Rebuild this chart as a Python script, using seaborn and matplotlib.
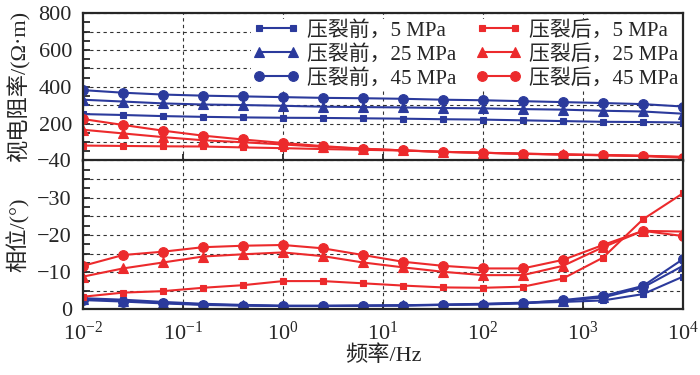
import numpy as np
import pandas as pd
import matplotlib
matplotlib.use("Agg")
import matplotlib.pyplot as plt
from matplotlib.ticker import MultipleLocator, FuncFormatter, LogLocator, NullLocator
import seaborn as sns

# ---------------------- Data ----------------------
freq = [0.01, 0.0251, 0.0631, 0.158, 0.398, 1.0, 2.51, 6.31, 15.8, 39.8,
        100.0, 251.0, 631.0, 1585.0, 3981.0, 10000.0]

rho_before_5 = [252, 247, 241, 237, 234, 232, 231, 229, 227, 224, 222, 218, 214, 210, 209, 206]
rho_before_25 = [330, 320, 310, 304, 301, 297, 292, 290, 288, 285, 283, 279, 276, 270, 266, 254]
rho_before_45 = [382, 368, 358, 352, 348, 344, 340, 338, 335, 330, 327, 322, 317, 312, 306, 293]
rho_after_5 = [81, 79, 77, 76, 71, 67, 62, 58, 54, 47, 42, 37, 33, 30, 26, 20]
rho_after_25 = [167, 147, 127, 110, 99, 87, 74, 64, 55, 47, 42, 37, 33, 29, 25, 18]
rho_after_45 = [225, 193, 162, 135, 114, 95, 78, 64, 55, 47, 42, 36, 32, 28, 24, 15]

phase_before_5 = [-3.0, -2.6, -2.0, -1.5, -1.2, -1.0, -1.0, -1.0, -1.1, -1.2, -1.4, -1.7, -2.0, -2.4, -4.1, -8.8]
phase_before_25 = [-2.8, -2.3, -1.8, -1.3, -1.1, -0.9, -0.9, -1.0, -1.1, -1.3, -1.5, -1.8, -2.3, -3.2, -5.9, -11.7]
phase_before_45 = [-2.5, -2.1, -1.6, -1.2, -1.0, -0.9, -0.9, -1.0, -1.0, -1.2, -1.3, -1.6, -2.5, -3.6, -6.3, -13.5]
phase_after_5 = [-3.4, -4.5, -4.9, -5.8, -6.5, -7.6, -7.6, -7.0, -6.4, -5.9, -5.8, -6.1, -8.3, -13.9, -24.2, -31.2]
phase_after_25 = [-8.8, -11.0, -12.6, -14.2, -14.8, -15.3, -14.3, -12.6, -11.3, -10.1, -9.2, -9.2, -11.7, -16.7, -21.1, -20.9]
phase_after_45 = [-11.7, -14.6, -15.5, -16.7, -17.1, -17.3, -16.4, -14.6, -12.8, -11.7, -11.0, -11.0, -13.3, -17.3, -21.1, -19.7]

labels = ["压裂前，5 MPa", "压裂前，25 MPa", "压裂前，45 MPa",
          "压裂后，5 MPa", "压裂后，25 MPa", "压裂后，45 MPa"]
rho_series = [rho_before_5, rho_before_25, rho_before_45, rho_after_5, rho_after_25, rho_after_45]
phase_series = [phase_before_5, phase_before_25, phase_before_45, phase_after_5, phase_after_25, phase_after_45]

BLUE = "#2b3a9c"
RED = "#ec2a2c"
colors = [BLUE, BLUE, BLUE, RED, RED, RED]
markers = ["s", "^", "o", "s", "^", "o"]
msizes = [5, 6.5, 7, 5, 6.5, 7]

# ---------------------- Style ----------------------
sns.set_style("ticks")
plt.rcParams["font.family"] = ["Liberation Serif", "Noto Sans CJK SC"]
plt.rcParams["mathtext.fontset"] = "stix"
plt.rcParams["axes.linewidth"] = 1.6

fig = plt.figure(figsize=(7, 3.75), dpi=100)
ax_top = fig.add_axes([0.1186, 0.572, 0.8571, 0.393])
ax_bot = fig.add_axes([0.1186, 0.175, 0.8571, 0.397], sharex=ax_top)

for i, lab in enumerate(labels):
    df_r = pd.DataFrame({"f": freq, "v": rho_series[i]})
    df_p = pd.DataFrame({"f": freq, "v": phase_series[i]})
    for ax, df in ((ax_top, df_r), (ax_bot, df_p)):
        sns.lineplot(data=df, x="f", y="v", ax=ax, color=colors[i], marker=markers[i],
                     markersize=msizes[i], markeredgecolor=colors[i], markeredgewidth=0.8,
                     linewidth=1.5, label=lab if ax is ax_top else None, legend=False)

# ---------------------- Axes ----------------------
grid_kw = dict(color="#333333", linestyle=(0, (3, 3)), linewidth=0.8)
for ax in (ax_top, ax_bot):
    ax.set_xscale("log")
    ax.set_xlim(0.01, 10000)
    ax.xaxis.set_major_locator(LogLocator(base=10, numticks=10))
    ax.xaxis.set_minor_locator(NullLocator())
    ax.tick_params(which="both", direction="in", length=5, width=1.3,
                   top=False, right=False, labelsize=16)
    ax.tick_params(axis="y", which="both", pad=8)
    ax.tick_params(axis="x", which="both", pad=9)
    ax.grid(True, which="major", **grid_kw)
    ax.set_xlabel("")
    for s in ax.spines.values():
        s.set_linewidth(1.6)
        s.set_visible(True)

ax_top.set_ylim(0, 800)
ax_top.yaxis.set_major_locator(MultipleLocator(100))
ax_top.yaxis.set_minor_locator(MultipleLocator(50))
ax_top.yaxis.set_major_formatter(FuncFormatter(lambda v, p: f"{int(v)}" if v % 200 == 0 and v > 0 else ""))
ax_top.tick_params(axis="x", labelbottom=False)
ax_top.set_ylabel("视电阻率/(Ω·m)", fontsize=16)

ax_bot.set_ylim(0, -40)
ax_bot.yaxis.set_major_locator(MultipleLocator(5))
ax_bot.yaxis.set_minor_locator(MultipleLocator(2.5))
ax_bot.yaxis.set_major_formatter(FuncFormatter(lambda v, p: f"{int(round(v))}".replace("-", "\u2212") if round(v) % 10 == 0 else ""))
ax_bot.set_ylabel("相位/(°)", fontsize=16)
ax_bot.set_xlabel("频率/Hz", fontsize=16, labelpad=0)

ax_top.yaxis.set_label_coords(-0.088, 0.5)
ax_bot.yaxis.set_label_coords(-0.088, 0.5)

leg = ax_top.legend(ncol=2, loc="upper right", bbox_to_anchor=(1.0, 0.975), fontsize=15,
                    frameon=True, fancybox=False, framealpha=1.0, edgecolor="none",
                    numpoints=2, handlelength=2.2, handletextpad=0.4, columnspacing=0.9,
                    labelspacing=0.2, borderpad=0.1, borderaxespad=0.1)
leg.set_zorder(1.5)

fig.savefig("out.png", dpi=100)
